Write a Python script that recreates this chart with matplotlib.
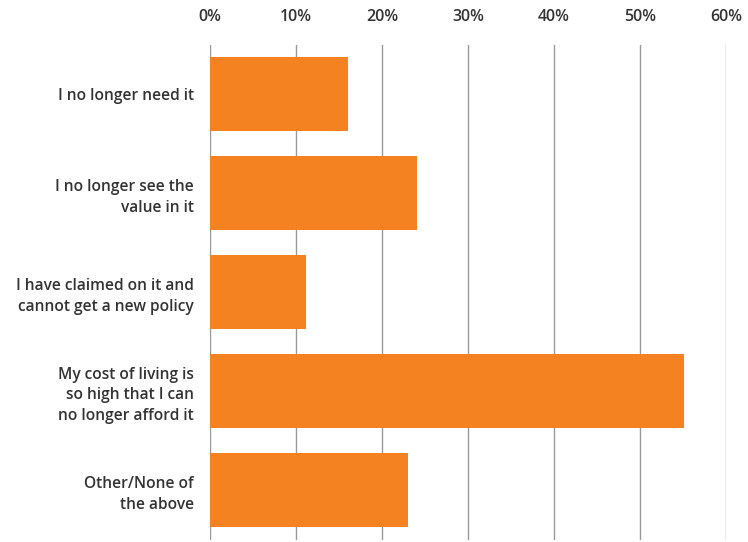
import numpy as np
import matplotlib.pyplot as plt

categories = ["I no longer need it",
              "I no longer see the\nvalue in it",
              "I have claimed on it and\ncannot get a new policy",
              "My cost of living is\nso high that I can\nno longer afford it",
              "Other/None of\nthe above"]
values = [16.0, 24.1, 11.2, 55.1, 23.0]
ticks = [0, 10, 20, 30, 40, 50, 60]

plt.rcParams['font.family'] = ['Open Sans', 'DejaVu Sans']

fig = plt.figure(figsize=(7.48, 5.42), dpi=100)
ax = fig.add_axes([210 / 748, 1 - 539.5 / 542, 516 / 748, 495 / 542])

y = np.arange(len(categories))
ax.barh(y, values, height=0.75, color='#F58220', zorder=3)

ax.set_xlim(0, 60)
ax.set_ylim(len(categories) - 0.5, -0.5)
ax.set_xticks(ticks)
ax.set_xticklabels([f"{t}%" for t in ticks])
ax.xaxis.tick_top()
ax.set_yticks(y)
ax.set_yticklabels(categories, linespacing=1.4)

ax.grid(axis='x', color='#999999', linewidth=1, zorder=0)
for s in ax.spines.values():
    s.set_visible(False)
ax.tick_params(axis='x', length=0, pad=14, labelsize=11.5, labelcolor='#333333')
ax.tick_params(axis='y', length=0, pad=11.5, labelsize=11.2, labelcolor='#333333')
for lbl in ax.get_xticklabels() + ax.get_yticklabels():
    lbl.set_fontweight('semibold')

fig.savefig("out.png", dpi=100)
